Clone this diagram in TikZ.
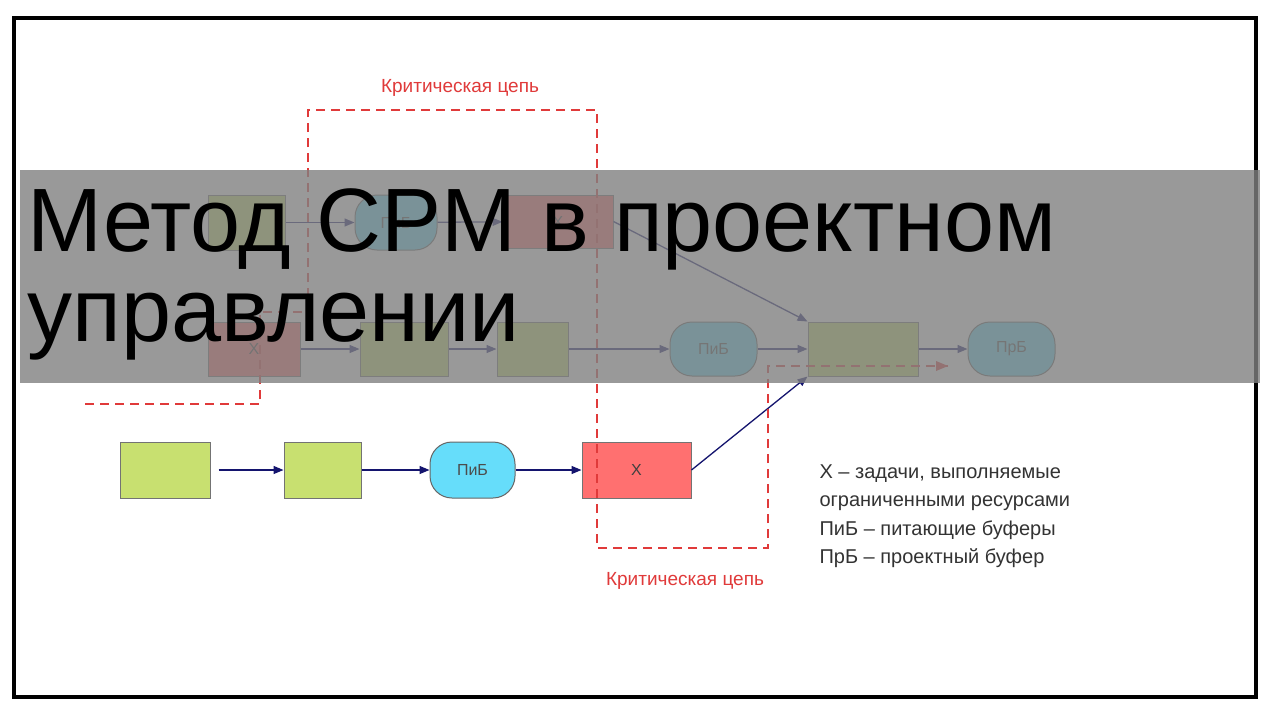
\documentclass[tikz,border=0pt]{standalone}
\usepackage{fontspec}
\setmainfont{Liberation Sans}
\usetikzlibrary{arrows.meta, positioning}
\definecolor{taskgreen}{HTML}{C8E070}
\definecolor{bufblue}{HTML}{66DDFA}
\definecolor{resred}{HTML}{FF7070}
\definecolor{linknavy}{HTML}{14146E}
\definecolor{chainred}{HTML}{E03A3A}
\tikzset{
  task/.style={rectangle, draw=black!55, line width=1pt, fill=taskgreen, inner sep=0pt},
  restask/.style={rectangle, draw=black!55, line width=1pt, fill=resred, inner sep=0pt, font=\fontsize{16}{18}\selectfont, text=black!75},
  buffer/.style={rectangle, rounded corners=22pt, draw=black!60, line width=1pt, fill=bufblue, inner sep=0pt, font=\fontsize{16}{18}\selectfont, text=black!70},
  link/.style={-{Triangle[length=10pt,width=8pt]}, draw=linknavy, line width=1.3pt},
  chain/.style={draw=chainred, line width=1.4pt, dash pattern=on 9pt off 6pt},
  chainlabel/.style={text=chainred, font=\fontsize{19}{21}\selectfont}
}
\begin{document}
\begin{tikzpicture}[x=1pt, y=-1pt]
\useasboundingbox (0,0) rectangle (1280,720);
\fill[white] (0,0) rectangle (1280,720);
\draw[line width=4pt] (14,18) rectangle (1256,697);

% Top row
\node[task, minimum width=77pt, minimum height=55pt] (t1) at (246.5,222.5) {};
\node[buffer, minimum width=82pt, minimum height=55pt] (b1) at (396,222.5) {ПиБ};
\node[restask, minimum width=110pt, minimum height=53pt] (x1) at (558,221.5) {Х};

% Middle row
\node[restask, minimum width=92pt, minimum height=54pt] (x2) at (254,349) {Х};
\node[task, minimum width=88pt, minimum height=54pt] (t2) at (404,349) {};
\node[task, minimum width=71pt, minimum height=54pt] (t3) at (532.5,349) {};
\node[buffer, minimum width=87pt, minimum height=54pt] (b2) at (713.5,349) {ПиБ};
\node[task, minimum width=110pt, minimum height=54pt] (merge) at (863,349) {};
\node[buffer, minimum width=87pt, minimum height=54pt] (pb) at (1011.5,349) {ПрБ};

% Bottom row
\node[task, minimum width=90pt, minimum height=56pt] (t4) at (165,470) {};
\node[task, minimum width=77pt, minimum height=56pt] (t5) at (322.5,470) {};
\node[buffer, minimum width=85pt, minimum height=56pt] (b3) at (472.5,470) {ПиБ};
\node[restask, minimum width=109pt, minimum height=56pt] (x3) at (636.5,470) {Х};

% Connections
\draw[link] (t1) -- (b1);
\draw[link] (b1) -- (x1);
\draw[link] (x1.east) -- (merge.north west);
\draw[link] (x2) -- (t2);
\draw[link] (t2) -- (t3);
\draw[link] (t3) -- (b2);
\draw[link] (b2) -- (merge);
\draw[link] (merge) -- (pb);
\draw[link] ([xshift=8pt]t4.east) -- (t5);
\draw[link] (t5) -- (b3);
\draw[link] (b3) -- (x3);
\draw[link] (x3.east) -- (merge.south west);

% Critical chains
\coordinate (chainstart) at (85,404);
\coordinate (chainend) at (948,366);
\draw[chain] (chainstart) -- (260,404) -- (260,312) -- (308,312) -- (308,110)
  -- (597,110) -- (597,548) -- (768,548) -- (768,366) -- (chainend);
\fill[chainred] (chainend) -- ++(-12,-5) -- ++(0,10) -- cycle;
\node[chainlabel] (cl1) at (460,88) {Критическая цепь};
\node[chainlabel] (cl2) at (685,581) {Критическая цепь};

% Legend
\node[anchor=north west, align=left, font=\fontsize{20}{28.5}\selectfont, text=black!80] (legend) at (816,461)
  {Х – задачи, выполняемые\\ограниченными ресурсами\\ПиБ – питающие буферы\\ПрБ – проектный буфер};

% Title band
\fill[gray, opacity=0.8] (20,170) rectangle (1260,383);
\node[anchor=north west, align=left, font=\fontsize{90}{90}\selectfont] (title) at (24,185)
  {Метод CPM в проектном\\управлении};
\end{tikzpicture}
\end{document}
